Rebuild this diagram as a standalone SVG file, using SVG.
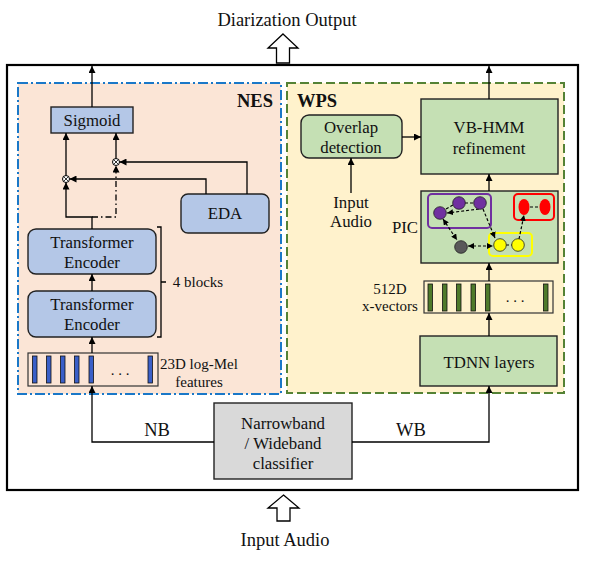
<svg xmlns="http://www.w3.org/2000/svg" width="598" height="572" viewBox="0 0 598 572" font-family="'Liberation Serif','Times New Roman',serif">
<defs>
<marker id="ah" viewBox="0 0 10 10" refX="10" refY="5" markerWidth="7" markerHeight="7" markerUnits="userSpaceOnUse" orient="auto-start-reverse">
<path d="M0,0 L10,5 L0,10 z" fill="#000"/>
</marker>
<marker id="ahs" viewBox="0 0 10 10" refX="10" refY="5" markerWidth="6" markerHeight="6" markerUnits="userSpaceOnUse" orient="auto-start-reverse">
<path d="M0,0 L10,5 L0,10 z" fill="#000"/>
</marker>
<style>
text{font-family:"Liberation Serif","Times New Roman",serif;fill:#111;text-anchor:middle}
.big{font-size:18.5px}
.box{font-size:16.8px}
.lab{font-size:15px}
.bold{font-size:18.5px;font-weight:bold}
.blue{fill:#b4c7e7;stroke:#222;stroke-width:1.4}
.green{fill:#c5e0b4;stroke:#222;stroke-width:1.4}
.ln{fill:none;stroke:#000;stroke-width:1.3}
.bar1{fill:#3a5fc8;stroke:#111;stroke-width:0.8}
.bar2{fill:#4e7a2a;stroke:#111;stroke-width:0.8}
.pic{fill:none;stroke:#000;stroke-width:1.2;stroke-dasharray:3 2}
</style>
</defs>

<!-- outer -->
<text class="big" x="287" y="26">Diarization Output</text>
<polygon points="283,34 298,48 289.5,48 289.5,63 276.5,63 276.5,48 268,48" fill="#fff" stroke="#000" stroke-width="1.3"/>
<rect x="7" y="65" width="571" height="425" fill="#fff" stroke="#000" stroke-width="2.2"/>
<polygon points="283.5,495 299,508 290,508 290,521 277,521 277,508 268,508" fill="#fff" stroke="#000" stroke-width="1.3"/>
<text class="big" x="285" y="546">Input Audio</text>

<!-- panels -->
<g id="NES">
<rect x="18" y="83" width="263" height="311" fill="#fbe5d6" stroke="#1a78c8" stroke-width="2" stroke-dasharray="10 3 2 3"/>
<text class="bold" x="255" y="107">NES</text>
</g>
<g id="WPS">
<rect x="287" y="83" width="277" height="310" fill="#fff2cc" stroke="#548235" stroke-width="2" stroke-dasharray="9 4"/>
<text class="bold" x="317" y="107">WPS</text>
</g>

<g id="sigmoid">
<rect class="blue" x="51" y="107" width="82" height="26"/>
<text class="box" x="92" y="126">Sigmoid</text>
</g>
<g id="eda">
<rect class="blue" x="181" y="194" width="88" height="39" rx="7"/>
<text class="box" x="225" y="219">EDA</text>
</g>
<g id="enc1">
<rect class="blue" x="28" y="229" width="128" height="45" rx="8"/>
<text class="box" x="92" y="248">Transformer</text>
<text class="box" x="92" y="268">Encoder</text>
</g>
<g id="enc2">
<rect class="blue" x="28" y="291" width="128" height="46" rx="8"/>
<text class="box" x="92" y="310">Transformer</text>
<text class="box" x="92" y="330">Encoder</text>
</g>
<g id="brace">
<path class="ln" d="M157,227 H161 V337 H157 M161,282 H166"/>
<text class="lab" x="198" y="287">4 blocks</text>
</g>
<g id="logmel">
<rect x="28" y="353" width="130" height="33" fill="none" stroke="#333" stroke-width="1.2"/>
<rect class="bar1" x="32.5" y="356" width="4.5" height="27"/>
<rect class="bar1" x="46.5" y="356" width="4.5" height="27"/>
<rect class="bar1" x="60.5" y="356" width="4.5" height="27"/>
<rect class="bar1" x="74.5" y="356" width="4.5" height="27"/>
<rect class="bar1" x="89" y="356" width="4.5" height="27"/>
<rect class="bar1" x="148" y="356" width="4.5" height="27"/>
<text class="lab" x="120" y="375">. . .</text>
<text class="lab" x="199" y="369">23D log-Mel</text>
<text class="lab" x="199" y="387">features</text>
</g>
<g id="mul1">
<circle cx="66" cy="179" r="3.5" fill="#fff" stroke="#000" stroke-width="1"/>
<path d="M63.5,176.5 L68.5,181.5 M68.5,176.5 L63.5,181.5" stroke="#000" stroke-width="0.8"/>
</g>
<g id="mul2">
<circle cx="116" cy="162" r="3.5" fill="#fff" stroke="#000" stroke-width="1"/>
<path d="M113.5,159.5 L118.5,164.5 M118.5,159.5 L113.5,164.5" stroke="#000" stroke-width="0.8"/>
</g>

<g id="overlap">
<rect class="green" x="301" y="115" width="101" height="43" rx="8"/>
<text class="box" x="351" y="133">Overlap</text>
<text class="box" x="351" y="153">detection</text>
</g>
<text class="box" x="351" y="208">Input</text>
<text class="box" x="351" y="227">Audio</text>
<g id="vbhmm">
<rect class="green" x="421" y="99" width="137" height="75"/>
<text class="box" x="489" y="133">VB-HMM</text>
<text class="box" x="489" y="154">refinement</text>
</g>
<g id="pic">
<rect class="green" x="421" y="191" width="137" height="72"/>
<text class="box" x="405" y="233">PIC</text>
<rect x="428" y="194" width="63" height="34" rx="4" fill="none" stroke="#7030a0" stroke-width="2"/>
<rect x="514" y="194" width="40" height="26" rx="4" fill="none" stroke="#ff0000" stroke-width="2"/>
<rect x="489" y="233" width="43" height="23" rx="4" fill="none" stroke="#ffff00" stroke-width="2"/>
<line class="pic" x1="446" y1="209" x2="453" y2="205"/>
<line class="pic" x1="465" y1="203" x2="474" y2="203"/>
<line class="pic" x1="530" y1="207" x2="539" y2="207"/>
<line class="pic" x1="506" y1="245" x2="512" y2="245"/>
<line class="pic" x1="479" y1="209" x2="447" y2="213" marker-end="url(#ahs)"/>
<line class="pic" x1="443" y1="219" x2="457" y2="240" marker-start="url(#ahs)" marker-end="url(#ahs)"/>
<line class="pic" x1="468" y1="246" x2="493" y2="246" marker-start="url(#ahs)" marker-end="url(#ahs)"/>
<line class="pic" x1="483" y1="209" x2="495" y2="238" marker-end="url(#ahs)"/>
<line class="pic" x1="519" y1="239" x2="524" y2="215" marker-end="url(#ahs)"/>
<circle cx="440" cy="213" r="6.3" fill="#7030a0" stroke="#222" stroke-width="0.8"/>
<circle cx="459" cy="203" r="6.3" fill="#7030a0" stroke="#222" stroke-width="0.8"/>
<circle cx="480" cy="203" r="6.3" fill="#7030a0" stroke="#222" stroke-width="0.8"/>
<ellipse cx="524" cy="207" rx="5.5" ry="8" fill="#ff0000"/>
<ellipse cx="545" cy="207" rx="5.5" ry="8" fill="#ff0000"/>
<circle cx="500" cy="245" r="6.3" fill="#ffff00" stroke="#222" stroke-width="0.8"/>
<circle cx="518" cy="245" r="6.3" fill="#ffff00" stroke="#222" stroke-width="0.8"/>
<circle cx="461" cy="247" r="6.3" fill="#595959" stroke="#222" stroke-width="0.8"/>
</g>
<g id="xvec">
<rect x="424" y="281" width="129" height="32" fill="none" stroke="#333" stroke-width="1.2"/>
<rect class="bar2" x="428" y="284" width="4.5" height="27"/>
<rect class="bar2" x="442.5" y="284" width="4.5" height="27"/>
<rect class="bar2" x="456.5" y="284" width="4.5" height="27"/>
<rect class="bar2" x="471" y="284" width="4.5" height="27"/>
<rect class="bar2" x="485.5" y="284" width="4.5" height="27"/>
<rect class="bar2" x="543.5" y="284" width="4.5" height="27"/>
<text class="lab" x="515" y="302">. . .</text>
<text class="lab" x="390" y="294">512D</text>
<text class="lab" x="390" y="311">x-vectors</text>
</g>
<g id="tdnn">
<rect class="green" x="420" y="336" width="137" height="50"/>
<text class="box" x="489" y="368">TDNN layers</text>
</g>
<g id="classifier">
<rect x="214" y="403" width="138" height="76" fill="#d9d9d9" stroke="#222" stroke-width="1.4"/>
<text class="box" x="283" y="429">Narrowband</text>
<text class="box" x="283" y="449">/ Wideband</text>
<text class="box" x="283" y="469">classifier</text>
</g>
<text class="big" x="157" y="436">NB</text>
<text class="big" x="411" y="436">WB</text>

<g id="connectors">
<path class="ln" d="M92,107 V66" marker-end="url(#ah)"/>
<path class="ln" d="M66,175.5 V133" marker-end="url(#ah)"/>
<path class="ln" d="M116,158.5 V133" marker-end="url(#ah)"/>
<path class="ln" d="M206,194 V179 H69.5" marker-end="url(#ah)"/>
<path class="ln" d="M247,194 V162 H119.5" marker-end="url(#ah)"/>
<path class="ln" d="M92,229 V217 H66 V182.5" marker-end="url(#ah)"/>
<path class="ln" d="M92,217 H116 V165.5" stroke-dasharray="6 3 1.5 3" marker-end="url(#ah)"/>
<path class="ln" d="M92,291 V274" marker-end="url(#ah)"/>
<path class="ln" d="M92,353 V337" marker-end="url(#ah)"/>
<path class="ln" d="M214,442 H92 V386" marker-end="url(#ah)"/>
<path class="ln" d="M352,442 H489 V386" marker-end="url(#ah)"/>
<path class="ln" d="M489,336 V313" marker-end="url(#ah)"/>
<path class="ln" d="M489,281 V263" marker-end="url(#ah)"/>
<path class="ln" d="M489,191 V174" marker-end="url(#ah)"/>
<path class="ln" d="M489,99 V66" marker-end="url(#ah)"/>
<path class="ln" d="M402,137 H421" marker-end="url(#ah)"/>
<path class="ln" d="M351,193 V158" marker-end="url(#ah)"/>
</g>
</svg>
